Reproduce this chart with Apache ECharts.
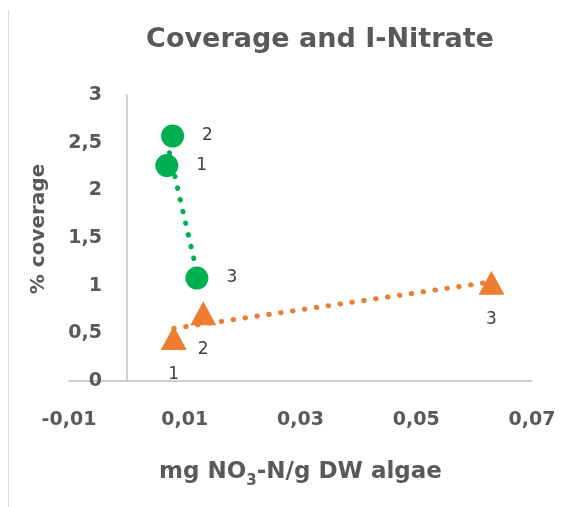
<!DOCTYPE html>
<html>
<head>
<meta charset="utf-8">
<script src="https://cdn.jsdelivr.net/npm/echarts@6/dist/echarts.min.js"></script>
<style>
  html, body { margin: 0; padding: 0; background: #fff; }
  #chart { width: 578px; height: 507px; }
</style>
</head>
<body>
<div id="chart"></div>
<script>
// data
const greenX = [0.0069, 0.0079, 0.0121]
const greenY = [2.26, 2.57, 1.08]
const orangeX = [0.0081, 0.0132, 0.0630]
const orangeY = [0.45, 0.71, 1.03]
const pointLabels = ['1', '2', '3']

const GREEN = '#00b050'
const ORANGE = '#ed7d31'
const GREY = '#595959'
const FONT = 'DejaVu Sans'

// linear trendline (least squares) between min and max x, like Excel does
const trend = function (xs, ys) {
  const n = xs.length
  const mx = xs.reduce((a, b) => a + b, 0) / n
  const my = ys.reduce((a, b) => a + b, 0) / n
  let sxy = 0, sxx = 0
  for (let i = 0; i < n; i++) {
    sxy += (xs[i] - mx) * (ys[i] - my)
    sxx += (xs[i] - mx) * (xs[i] - mx)
  }
  const k = sxy / sxx
  const x0 = Math.min(...xs), x1 = Math.max(...xs)
  return [[x0, my + k * (x0 - mx)], [x1, my + k * (x1 - mx)]]
}

const toPoints = (xs, ys) => xs.map((x, i) => ({ value: [x, ys[i]], name: pointLabels[i] }))
const comma = v => String(v).replace('.', ',')

const chart = echarts.init(document.getElementById('chart'))
chart.setOption({
  animation: false,
  title: {
    text: 'Coverage and I-Nitrate',
    left: 315,
    textAlign: 'center',
    top: 21,
    textStyle: { fontFamily: FONT, fontSize: 27, fontWeight: 'bold', color: GREY }
  },
  grid: { left: 69, top: 95, width: 463, height: 286, outerBoundsMode: 'none' },
  xAxis: {
    type: 'value',
    min: -0.01,
    max: 0.07,
    interval: 0.02,
    name: '{n|mg NO}{s|3}{n|-N/g DW algae}',
    nameLocation: 'middle',
    nameGap: 80,
    nameTextStyle: {
      rich: {
        n: { fontFamily: FONT, fontSize: 23, fontWeight: 'bold', color: GREY, lineHeight: 28, verticalAlign: 'top' },
        s: { fontFamily: FONT, fontSize: 15, fontWeight: 'bold', color: GREY, lineHeight: 16, verticalAlign: 'bottom' }
      }
    },
    splitLine: { show: false },
    axisTick: { show: false },
    axisLine: { lineStyle: { color: '#bfbfbf', width: 1.5 } },
    axisLabel: {
      margin: 30,
      fontFamily: FONT, fontSize: 19, fontWeight: 'bold', color: GREY,
      formatter: v => v.toFixed(2).replace('.', ',')
    }
  },
  yAxis: {
    type: 'value',
    min: 0,
    max: 3,
    interval: 0.5,
    offset: -58,
    name: '% coverage',
    nameLocation: 'middle',
    nameGap: 78,
    nameTextStyle: { fontFamily: FONT, fontSize: 20, fontWeight: 'bold', color: GREY, padding: [0, 0, 0, 18] },
    splitLine: { show: false },
    axisTick: { show: false },
    axisLine: { onZero: false, lineStyle: { color: '#bfbfbf', width: 1.5 } },
    axisLabel: {
      margin: 25,
      fontFamily: FONT, fontSize: 19, fontWeight: 'bold', color: GREY,
      formatter: comma
    }
  },
  graphic: [
    {
      type: 'line',
      shape: { x1: 8.5, y1: 10, x2: 8.5, y2: 507 },
      style: { stroke: '#d9d9d9', lineWidth: 1 }
    }
  ],
  series: [
    {
      type: 'line',
      data: trend(greenX, greenY),
      symbol: 'none',
      z: 1,
      lineStyle: { color: GREEN, width: 5, type: [0.5, 11.5], cap: 'round' }
    },
    {
      type: 'line',
      data: trend(orangeX, orangeY),
      symbol: 'none',
      z: 1,
      lineStyle: { color: ORANGE, width: 5, type: [0.5, 11.5], cap: 'round' }
    },
    {
      type: 'scatter',
      data: toPoints(greenX, greenY),
      symbol: 'circle',
      symbolSize: 23,
      z: 3,
      itemStyle: { color: GREEN, opacity: 1 },
      label: {
        show: true, position: 'right', distance: 18, formatter: '{b}',
        fontFamily: FONT, fontSize: 17, color: '#404040'
      }
    },
    {
      type: 'scatter',
      data: toPoints(orangeX, orangeY),
      symbol: 'triangle',
      symbolSize: [26, 24],
      z: 3,
      itemStyle: { color: ORANGE, opacity: 1 },
      label: {
        show: true, position: 'bottom', distance: 16, formatter: '{b}',
        fontFamily: FONT, fontSize: 17, color: '#404040'
      }
    }
  ]
})
</script>
</body>
</html>
